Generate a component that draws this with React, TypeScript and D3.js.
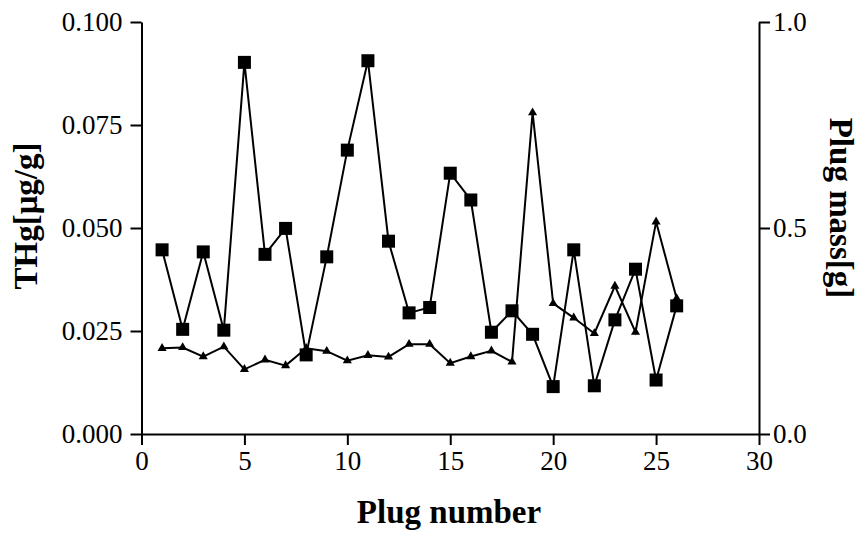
import React, { useEffect, useRef } from 'react';
import * as d3 from 'd3';

const plugNumbers = [1, 2, 3, 4, 5, 6, 7, 8, 9, 10, 11, 12, 13, 14, 15, 16, 17, 18, 19, 20, 21, 22, 23, 24, 25, 26];
const thg = [0.0447, 0.0254, 0.0442, 0.0252, 0.0902, 0.0436, 0.0499, 0.0192, 0.0430, 0.0689, 0.0906, 0.0468, 0.0294,
    0.0307, 0.0633, 0.0568, 0.0247, 0.0299, 0.0242, 0.0115, 0.0447, 0.0117, 0.0277, 0.0400, 0.0131, 0.0311];
const plugMass = [0.208, 0.210, 0.188, 0.212, 0.157, 0.180, 0.166, 0.208, 0.201, 0.178, 0.191, 0.187, 0.218,
    0.218, 0.172, 0.188, 0.202, 0.175, 0.780, 0.317, 0.282, 0.244, 0.359, 0.247, 0.515, 0.329];
const xTicks = [0, 5, 10, 15, 20, 25, 30];
const leftTicks = [0, 0.025, 0.05, 0.075, 0.1];
const rightTicks = [0, 0.5, 1.0];

const width = 859;
const height = 533;
const font = 'Liberation Serif, Times New Roman, serif';

const App = () => {
    const svgRef = useRef<SVGSVGElement | null>(null);

    useEffect(() => {
        if (!svgRef.current) return;
        const svg = d3.select(svgRef.current);
        svg.selectAll('*').remove();

        const x = d3.scaleLinear().domain([0, 30]).range([141.5, 759]);
        const yLeft = d3.scaleLinear().domain([0, 0.1]).range([434, 22]);
        const yRight = d3.scaleLinear().domain([0, 1]).range([434, 22]);

        // axes (override d3's default sans-serif 10px)
        const styleAxis = (g: any) => {
            g.attr('font-family', font).attr('font-size', 27);
            g.select('.domain').attr('stroke', '#000').attr('stroke-width', 2);
            g.selectAll('.tick line').attr('stroke', '#000').attr('stroke-width', 2);
            g.selectAll('.tick text').attr('fill', '#000');
        };

        svg.append('g')
            .attr('transform', `translate(0,${yLeft(0)})`)
            .call(d3.axisBottom(x).tickValues(xTicks).tickSize(11).tickSizeOuter(0).tickPadding(6).tickFormat(d3.format('d')))
            .call(styleAxis);

        svg.append('g')
            .attr('transform', `translate(${x(0)},0)`)
            .call(d3.axisLeft(yLeft).tickValues(leftTicks).tickSize(11).tickSizeOuter(0).tickPadding(8).tickFormat(d3.format('.3f')))
            .call(styleAxis);

        svg.append('g')
            .attr('transform', `translate(${x(30)},0)`)
            .call(d3.axisRight(yRight).tickValues(rightTicks).tickSize(11).tickSizeOuter(0).tickPadding(3).tickFormat(d3.format('.1f')))
            .call(styleAxis);

        // axis titles
        const title = (sel: any) => sel
            .attr('text-anchor', 'middle')
            .attr('font-family', font).attr('font-size', 33).attr('font-weight', 'bold');

        svg.append('text')
            .attr('x', 449).attr('y', 523)
            .call(title)
            .text('Plug number');

        svg.append('text')
            .attr('transform', 'translate(37,216) rotate(-90)')
            .call(title)
            .text('THg[μg/g]');

        svg.append('text')
            .attr('transform', 'translate(830,208) rotate(90)')
            .call(title)
            .text('Plug mass[g]');

        // plug mass series (triangles)
        const massLine = d3.line<number>()
            .x((d, i) => x(plugNumbers[i]))
            .y((d) => yRight(d));
        svg.append('path')
            .datum(plugMass)
            .attr('d', massLine)
            .attr('fill', 'none')
            .attr('stroke', '#000')
            .attr('stroke-width', 2);
        svg.append('g')
            .selectAll('path')
            .data(plugMass)
            .enter()
            .append('path')
            .attr('d', d3.symbol().type(d3.symbolTriangle).size(36))
            .attr('transform', (d, i) => `translate(${x(plugNumbers[i])},${yRight(d)})`)
            .attr('fill', '#000');

        // THg series (squares)
        const thgLine = d3.line<number>()
            .x((d, i) => x(plugNumbers[i]))
            .y((d) => yLeft(d));
        svg.append('path')
            .datum(thg)
            .attr('d', thgLine)
            .attr('fill', 'none')
            .attr('stroke', '#000')
            .attr('stroke-width', 2);
        svg.append('g')
            .selectAll('rect')
            .data(thg)
            .enter()
            .append('rect')
            .attr('x', (d, i) => x(plugNumbers[i]) - 6.5)
            .attr('y', (d) => yLeft(d) - 6.5)
            .attr('width', 13)
            .attr('height', 13)
            .attr('fill', '#000');
    }, []);

    return (
        <svg ref={svgRef} width={width} height={height}
            style={{ position: 'absolute', left: 0, top: 0, background: '#fff' }} />
    );
};

export default App;
